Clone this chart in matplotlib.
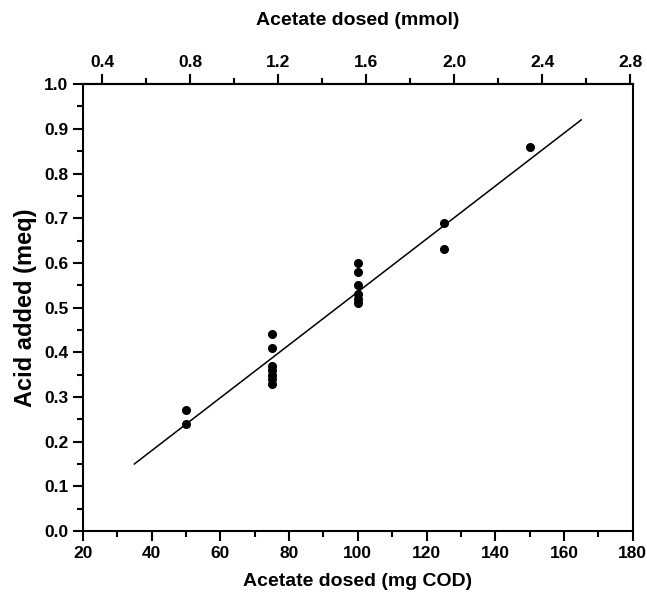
import matplotlib.pyplot as plt
import numpy as np

plt.rcParams['font.family'] = ['Liberation Sans', 'DejaVu Sans']
plt.rcParams['font.weight'] = 'bold'

# acetate dosed (mg COD) and acid added (meq)
cod = [50, 50,
       75, 75, 75, 75, 75, 75, 75,
       100, 100, 100, 100, 100, 100,
       125, 125,
       150]
acid = [0.27, 0.24,
        0.44, 0.41, 0.37, 0.36, 0.35, 0.34, 0.33,
        0.60, 0.58, 0.55, 0.53, 0.52, 0.51,
        0.69, 0.63,
        0.86]

# fitted line end points
fit_x = [35, 165]
fit_y = [0.15, 0.92]

mg_per_mmol = 64.0

fig = plt.figure(figsize=(6.47, 6.01), dpi=100)
ax = fig.add_axes([0.128, 0.1165, 0.85, 0.7435])
ax.plot(cod, acid, "o", color="black", ms=5.5)
ax.plot(fit_x, fit_y, "-", color="black", lw=1.1)

ax.set_xlim(20, 180)
ax.set_ylim(0.0, 1.0)
ax.set_xticks(np.arange(20, 181, 20))
ax.set_xticks(np.arange(30, 180, 20), minor=True)
ax.set_yticks(np.arange(0, 1.01, 0.1))
ax.set_yticks(np.arange(0.05, 1.0, 0.1), minor=True)
ax.yaxis.set_major_formatter(plt.FormatStrFormatter("%.1f"))
ax.tick_params(which="both", direction="out", width=1.5, labelsize=12.5)
ax.tick_params(which="major", length=7)
ax.tick_params(which="minor", length=4)
for s in ax.spines.values():
    s.set_linewidth(1.5)

ax.set_xlabel("Acetate dosed (mg COD)", fontsize=14, fontweight="bold", labelpad=9)
ax.set_ylabel("Acid added (meq)", fontsize=17, fontweight="bold", labelpad=5)

top = ax.secondary_xaxis("top", functions=(lambda x: x / mg_per_mmol, lambda m: m * mg_per_mmol))
top.set_xticks(np.arange(0.4, 2.81, 0.4))
top.set_xticks(np.arange(0.6, 2.8, 0.4), minor=True)
top.xaxis.set_major_formatter(plt.FormatStrFormatter("%.1f"))
top.tick_params(which="both", direction="out", width=1.5, labelsize=12.5)
top.tick_params(which="major", length=7)
top.tick_params(which="minor", length=4)
top.spines["top"].set_linewidth(1.5)
top.set_xlabel("Acetate dosed (mmol)", fontsize=14, fontweight="bold", labelpad=21)

plt.savefig("out.png")
